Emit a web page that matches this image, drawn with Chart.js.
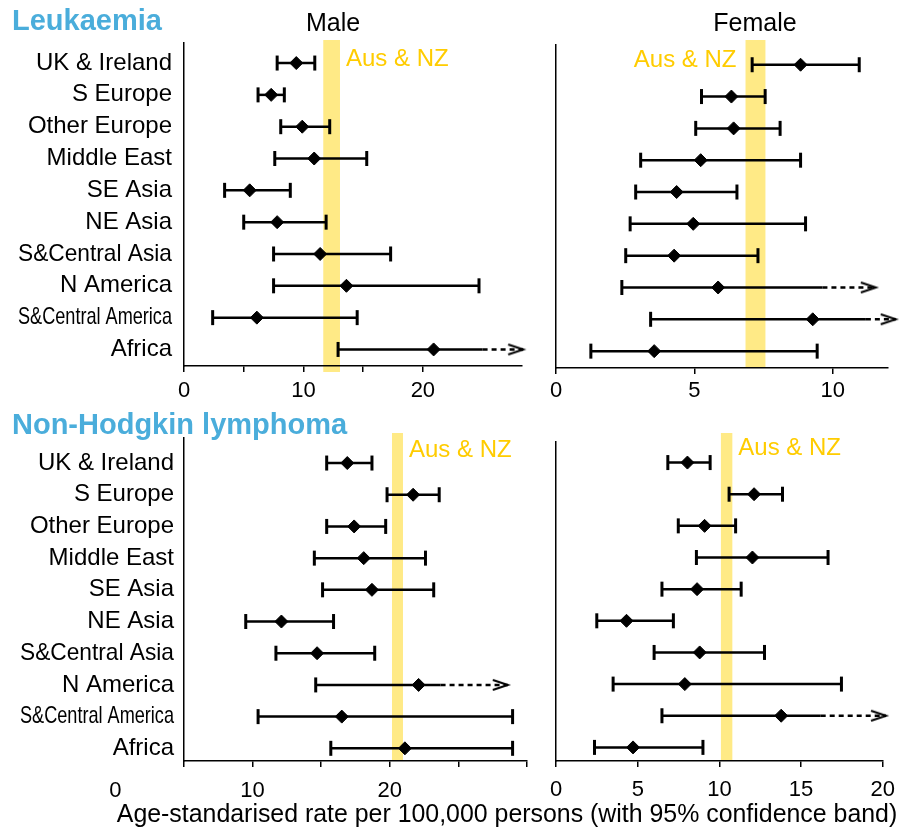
<!DOCTYPE html>
<html>
<head>
<meta charset="utf-8">
<script src="https://cdn.jsdelivr.net/npm/chart.js@4.4.1/dist/chart.umd.min.js"></script>
<style>
  body { margin: 0; background: #fff; font-family: "Liberation Sans", Arial, Helvetica, sans-serif; }
  #page { position: relative; width: 905px; height: 827px; overflow: hidden; background: #fff; }
  #page canvas { position: absolute; }
  .txt { position: absolute; white-space: nowrap; color: #000; }
  .heading { left: 12px; font-weight: bold; font-size: 29px; line-height: 29px; color: #4AADDB; }
  .sex { top: 9.5px; font-size: 25px; line-height: 25px; transform: translateX(-50%); }
  #xtitle { left: 507px; top: 801px; font-size: 24.9px; line-height: 24.9px; transform: translateX(-50%); }
</style>
</head>
<body>
<div id="page">
  <canvas id="leukMale" width="540" height="405" style="left:0;top:0"></canvas>
  <canvas id="leukFemale" width="365" height="405" style="left:540px;top:0"></canvas>
  <canvas id="nhlMale" width="540" height="422" style="left:0;top:405px"></canvas>
  <canvas id="nhlFemale" width="365" height="422" style="left:540px;top:405px"></canvas>
  <div class="txt heading" style="top:5.5px">Leukaemia</div>
  <div class="txt heading" style="top:409.5px">Non-Hodgkin lymphoma</div>
  <div class="txt sex" style="left:333px">Male</div>
  <div class="txt sex" style="left:755px">Female</div>
  <div class="txt" id="xtitle">Age-standarised rate per 100,000 persons (with 95% confidence band)</div>
</div>
<script>
// regions, top to bottom
var regions = ['UK & Ireland', 'S Europe', 'Other Europe', 'Middle East', 'SE Asia', 'NE Asia',
               'S&Central Asia', 'N America', 'S&Central America', 'Africa'];

// Leukaemia, male
var leukMaleEst  = [9.4, 7.3, 9.9, 10.9, 5.5, 7.8, 11.4, 13.6, 6.1, 20.9];
var leukMaleLow  = [7.8, 6.2, 8.1, 7.6, 3.4, 5.0, 7.5, 7.5, 2.4, 12.9];
var leukMaleHigh = [10.95, 8.4, 12.2, 15.3, 8.9, 11.9, 17.3, 24.7, 14.5, 28.4];
var leukMaleDashFrom = [null, null, null, null, null, null, null, null, null, 25.0];
var leukMaleAusNz = [11.66, 13.06];
var leukMaleTicks = [0, 10, 20];

// Leukaemia, female
var leukFemaleEst  = [8.84, 6.34, 6.42, 5.23, 4.36, 4.96, 4.27, 5.86, 9.28, 3.55];
var leukFemaleLow  = [7.09, 5.26, 5.05, 3.06, 2.88, 2.68, 2.52, 2.38, 3.42, 1.26];
var leukFemaleHigh = [10.96, 7.56, 8.10, 8.84, 6.54, 9.02, 7.30, 11.56, 12.28, 9.44];
var leukFemaleDashFrom = [null, null, null, null, null, null, null, 9.63, 11.2, null];
var leukFemaleAusNz = [6.85, 7.57];
var leukFemaleTicks = [0, 5, 10];

// Non-Hodgkin lymphoma, male
var nhlMaleEst  = [16.9, 21.7, 17.4, 18.1, 18.7, 12.1, 14.7, 22.1, 16.5, 21.1];
var nhlMaleLow  = [15.4, 19.8, 15.4, 14.5, 15.1, 9.5, 11.7, 14.6, 10.4, 15.7];
var nhlMaleHigh = [18.7, 23.6, 19.7, 22.6, 23.2, 15.9, 18.9, 28.6, 28.95, 28.95];
var nhlMaleDashFrom = [null, null, null, null, null, null, null, 23.7, null, null];
var nhlMaleAusNz = [20.16, 20.96];
var nhlMaleTicks = [0, 10, 20];

// Non-Hodgkin lymphoma, female
var nhlFemaleEst  = [8.04, 12.12, 9.09, 12.02, 8.63, 4.31, 8.79, 7.88, 13.78, 4.71];
var nhlFemaleLow  = [6.84, 10.59, 7.48, 8.59, 6.48, 2.49, 6.0, 3.49, 6.48, 2.35];
var nhlFemaleHigh = [9.43, 13.86, 10.99, 16.65, 11.33, 7.18, 12.76, 17.47, 20.2, 8.99];
var nhlFemaleDashFrom = [null, null, null, null, null, null, null, null, 16.2, null];
var nhlFemaleAusNz = [10.09, 10.79];
var nhlFemaleTicks = [0, 5, 10, 15, 20];

var FONT = '"Liberation Sans", Arial, Helvetica, sans-serif';
Chart.defaults.font.family = FONT;
Chart.defaults.color = '#000';

// the two long region names are squeezed to this width in the original
var squeezed = { 'S&Central Asia': 154, 'S&Central America': 154 };
var squeezeLabels = {
	id: 'squeezeLabels',
	beforeDraw: function(chart) {
		var ctx = chart.ctx;
		if (ctx._squeezed) return;
		var fill = ctx.fillText;
		ctx.fillText = function(text, x, y, maxWidth) {
			return fill.call(this, text, x, y, squeezed[text] || maxWidth);
		};
		ctx._squeezed = true;
	}
};

// open arrow head for intervals running off the axis
var arrowHead = document.createElement('canvas');
arrowHead.width = 32;
arrowHead.height = 14;
var ah = arrowHead.getContext('2d');
ah.strokeStyle = '#000';
ah.lineWidth = 2;
ah.beginPath();
ah.moveTo(1, 2);
ah.lineTo(16, 7);
ah.lineTo(1, 12);
ah.stroke();

var ausNzBand = {
	id: 'ausNzBand',
	beforeDraw: function(chart, args, o) {
		var ctx = chart.ctx, area = chart.chartArea, x = chart.scales.x;
		var x0 = x.getPixelForValue(o.range[0]), x1 = x.getPixelForValue(o.range[1]);
		ctx.save();
		ctx.fillStyle = '#FFEA86';
		ctx.fillRect(x0, area.top - o.above, x1 - x0, area.bottom - area.top + o.above + o.below);
		ctx.font = '24px ' + FONT;
		ctx.fillStyle = '#FFCC00';
		ctx.textBaseline = 'alphabetic';
		if (o.side === 'right') {
			ctx.textAlign = 'left';
			ctx.fillText('Aus & NZ', x1 + 6, area.top + o.baseline);
		} else {
			ctx.textAlign = 'right';
			ctx.fillText('Aus & NZ', x0 - 9, area.top + o.baseline);
		}
		ctx.restore();
	}
};

// tick labels that sit left of where the axis starts
var outsideTicks = {
	id: 'outsideTicks',
	afterDraw: function(chart, args, o) {
		var x = chart.scales.x, ctx = chart.ctx;
		var item = x.getLabelItems()[0];
		if (!item) return;
		ctx.save();
		ctx.font = x.options.ticks.font.size + 'px ' + FONT;
		ctx.fillStyle = '#000';
		ctx.textAlign = 'center';
		ctx.textBaseline = item.options.textBaseline;
		o.values.forEach(function(v) {
			if (v < x.min) ctx.fillText(String(v), x.getPixelForValue(v), item.options.translation[1] + item.textOffset);
		});
		ctx.restore();
	}
};

function buildDatasets(est, low, high, dashFrom) {
	var sets = [{
		label: 'Rate',
		data: est.map(function(v, i) { return { x: v, y: i }; }),
		showLine: false,
		clip: false,
		pointStyle: 'rectRot',
		pointRadius: 6.5,
		pointBackgroundColor: '#000',
		pointBorderColor: '#000',
		pointBorderWidth: 1
	}];
	regions.forEach(function(r, i) {
		var cut = dashFrom[i] != null;
		var xs = cut ? [low[i], dashFrom[i], high[i]] : [low[i], high[i]];
		sets.push({
			label: r,
			data: xs.map(function(v) { return { x: v, y: i }; }),
			showLine: true,
			clip: false,
			borderColor: '#000',
			borderWidth: 2.5,
			pointStyle: cut ? ['line', 'line', arrowHead] : 'line',
			pointRotation: cut ? [90, 0, 0] : 90,
			pointRadius: cut ? [7.5, 0, 18] : 7.5,
			pointBorderColor: '#000',
			pointBorderWidth: 3,
			segment: {
				borderDash: function(c) { return (cut && c.p0DataIndex === 1) ? [5, 4] : undefined; }
			}
		});
	});
	return sets;
}

function drawPanel(p) {
	new Chart(document.getElementById(p.id), {
		type: 'scatter',
		data: { datasets: buildDatasets(p.est, p.low, p.high, p.dashFrom) },
		options: {
			responsive: false,
			animation: false,
			events: [],
			layout: { padding: { left: 0, top: p.top, right: p.right, bottom: 0 }, autoPadding: false },
			plugins: {
				legend: { display: false },
				tooltip: { enabled: false },
				ausNzBand: { range: p.ausNz, side: p.side, baseline: p.labelBaseline, above: p.above, below: p.below },
				outsideTicks: { values: p.ticks }
			},
			scales: {
				x: {
					type: 'linear',
					min: p.xMin,
					max: p.xMax,
					afterBuildTicks: function(s) {
						s.ticks = s.ticks.filter(function(t) { return Math.abs(t.value % 5) < 1e-9; });
					},
					afterFit: function(s) { s.height = p.xHeight; },
					ticks: {
						stepSize: 5,
						autoSkip: false,
						maxRotation: 0,
						padding: p.tickPad,
						font: { size: 22 },
						color: '#000',
						callback: function(v) { return p.ticks.indexOf(v) >= 0 ? String(v) : ''; }
					},
					grid: { drawOnChartArea: false, drawTicks: true, tickLength: 6, color: '#000', lineWidth: 1.5 },
					border: { display: true, color: '#000', width: 1.5 }
				},
				y: {
					type: 'linear',
					reverse: true,
					min: p.yMin,
					max: p.yMax,
					afterBuildTicks: function(s) {
						s.ticks = regions.map(function(r, i) { return { value: i }; });
					},
					afterFit: function(s) { s.width = p.yWidth; },
					ticks: {
						display: p.showRegions,
						padding: p.regionPad,
						color: '#000',
						font: { size: 24 },
						callback: function(v) { return regions[v]; }
					},
					grid: { display: false, drawTicks: false },
					border: { display: true, color: '#000', width: 1.5 }
				}
			}
		},
		plugins: [squeezeLabels, ausNzBand, outsideTicks]
	});
}

drawPanel({ id: 'leukMale', est: leukMaleEst, low: leukMaleLow, high: leukMaleHigh, dashFrom: leukMaleDashFrom,
	ausNz: leukMaleAusNz, ticks: leukMaleTicks, xMin: 0, xMax: 28.3, yMin: -0.63, yMax: 9.52,
	top: 43, right: 18, yWidth: 184, xHeight: 39, tickPad: 6, showRegions: true, regionPad: 12,
	side: 'right', labelBaseline: 23, above: 3, below: 6 });

drawPanel({ id: 'leukFemale', est: leukFemaleEst, low: leukFemaleLow, high: leukFemaleHigh, dashFrom: leukFemaleDashFrom,
	ausNz: leukFemaleAusNz, ticks: leukFemaleTicks, xMin: 0, xMax: 12, yMin: -0.62, yMax: 9.53,
	top: 45, right: 17, yWidth: 16, xHeight: 37, tickPad: 4, showRegions: false, regionPad: 0,
	side: 'left', labelBaseline: 22, above: 5, below: 0 });

drawPanel({ id: 'nhlMale', est: nhlMaleEst, low: nhlMaleLow, high: nhlMaleHigh, dashFrom: nhlMaleDashFrom,
	ausNz: nhlMaleAusNz, ticks: nhlMaleTicks, xMin: 5, xMax: 30, yMin: -0.79, yMax: 9.4,
	top: 33, right: 13, yWidth: 184, xHeight: 66, tickPad: 11, showRegions: true, regionPad: 10,
	side: 'right', labelBaseline: 19, above: 5, below: 0 });

drawPanel({ id: 'nhlFemale', est: nhlFemaleEst, low: nhlFemaleLow, high: nhlFemaleHigh, dashFrom: nhlFemaleDashFrom,
	ausNz: nhlFemaleAusNz, ticks: nhlFemaleTicks, xMin: 0, xMax: 20, yMin: -0.65, yMax: 9.43,
	top: 37, right: 18, yWidth: 12, xHeight: 66, tickPad: 10, showRegions: false, regionPad: 0,
	side: 'right', labelBaseline: 13, above: 9, below: 0 });
</script>
</body>
</html>
